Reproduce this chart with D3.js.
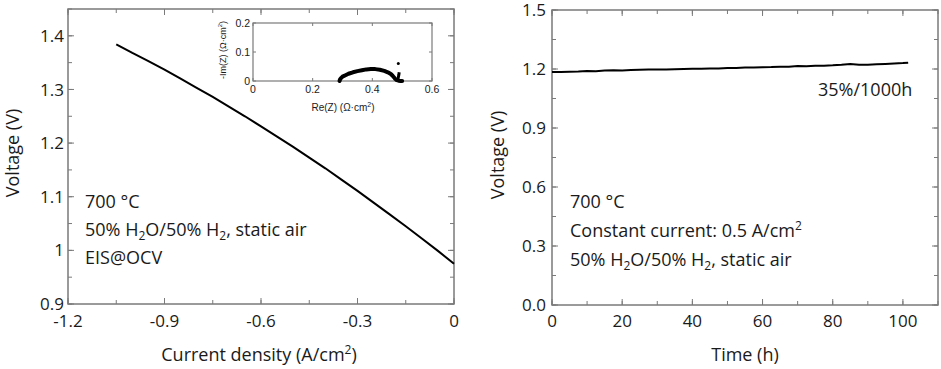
<!DOCTYPE html>
<html>
<head>
<meta charset="utf-8">
<script src="https://cdn.jsdelivr.net/npm/d3@7"></script>
<style>
body{margin:0;background:#fff;}
svg{display:block;}
text{fill:#1a1a1a;}
</style>
</head>
<body>
<svg id="c" width="941" height="369"></svg>
<script>
// ---------- DATA ----------
const ivCurrent = [-1.05,-1.0,-0.95,-0.9,-0.85,-0.8,-0.75,-0.7,-0.65,-0.6,-0.55,-0.5,-0.45,-0.4,-0.35,-0.3,-0.25,-0.2,-0.15,-0.1,-0.05,0];
const ivVoltage = [1.384,1.368,1.353,1.337,1.320,1.303,1.286,1.268,1.250,1.231,1.212,1.193,1.173,1.153,1.132,1.111,1.089,1.067,1.045,1.022,0.999,0.975];

const eisRe = [0.29,0.292,0.296,0.30,0.31,0.32,0.335,0.35,0.365,0.38,0.395,0.41,0.425,0.44,0.452,0.462,0.468,0.473,0.477,0.482,0.488,0.495,0.50];
const eisIm = [0.0,0.006,0.011,0.015,0.020,0.025,0.030,0.034,0.037,0.040,0.041,0.041,0.039,0.035,0.030,0.024,0.018,0.012,0.007,0.003,0.001,0.0,0.0];
const eisTailRe = [0.485,0.487,0.489,0.49];
const eisTailIm = [0.0,0.012,0.022,0.03];
const eisDotRe = [0.487];
const eisDotIm = [0.06];

const timeH = [0,2.5,5,7.5,10,12.5,15,17.5,20,22.5,25,27.5,30,32.5,35,37.5,40,42.5,45,47.5,50,52.5,55,57.5,60,62.5,65,67.5,70,72.5,75,77.5,80,82.5,85,87.5,90,92.5,95,97.5,100,101.5];
const timeV = [1.185,1.185,1.186,1.187,1.190,1.189,1.192,1.194,1.193,1.195,1.196,1.197,1.198,1.197,1.199,1.200,1.201,1.201,1.203,1.203,1.205,1.205,1.207,1.207,1.209,1.210,1.212,1.211,1.215,1.214,1.216,1.217,1.219,1.222,1.226,1.222,1.222,1.224,1.226,1.228,1.230,1.232];

const leftXTicks = [-1.2,-0.9,-0.6,-0.3,0];
const leftYTicks = [0.9,1.0,1.1,1.2,1.3,1.4];
const rightXTicks = [0,20,40,60,80,100];
const rightYTicks = [0,0.3,0.6,0.9,1.2,1.5];
const insetXTicks = [0,0.2,0.4,0.6];
const insetYTicks = [0,0.1,0.2];

// ---------- DRAW ----------
const svg = d3.select("#c");
const FONT = "'Open Sans', Lato, sans-serif";
const FS = 18;
const TFS = 17;
const FRAME = "#7a7a7a";

function panel(o){
  const g = svg.append("g");
  const x = d3.scaleLinear().domain(o.xDom).range([o.l,o.r]);
  const y = d3.scaleLinear().domain(o.yDom).range([o.b,o.t]);
  const drawTicks=(vals,len,axis)=>{
    vals.forEach(v=>{
      if(axis==="x"){
        g.append("line").attr("x1",x(v)).attr("x2",x(v)).attr("y1",o.b).attr("y2",o.b-len).attr("stroke",FRAME).attr("stroke-width",1);
        g.append("line").attr("x1",x(v)).attr("x2",x(v)).attr("y1",o.t).attr("y2",o.t+len).attr("stroke",FRAME).attr("stroke-width",1);
      } else {
        g.append("line").attr("y1",y(v)).attr("y2",y(v)).attr("x1",o.l).attr("x2",o.l+len).attr("stroke",FRAME).attr("stroke-width",1);
        g.append("line").attr("y1",y(v)).attr("y2",y(v)).attr("x1",o.r).attr("x2",o.r-len).attr("stroke",FRAME).attr("stroke-width",1);
      }
    });
  };
  drawTicks(o.xMinor,o.minorLen,"x");
  drawTicks(o.yMinor,o.minorLen,"y");
  drawTicks(o.xTicks,o.majorLen,"x");
  drawTicks(o.yTicks,o.majorLen,"y");
  g.append("rect").attr("x",o.l).attr("y",o.t).attr("width",o.r-o.l).attr("height",o.b-o.t)
    .attr("fill","none").attr("stroke",FRAME).attr("stroke-width",o.frameW||1.5);
  g.selectAll(".xl").data(o.xTicks).enter().append("text")
    .attr("x",d=>x(d)).attr("y",o.b+o.xLabOff).attr("text-anchor","middle")
    .style("font-family",o.font).style("font-size",o.fs+"px").text(o.xFmt);
  g.selectAll(".yl").data(o.yTicks).enter().append("text")
    .attr("x",o.l-o.yLabOff).attr("y",d=>y(d)).attr("dy","0.36em").attr("text-anchor","end")
    .style("font-family",o.font).style("font-size",o.fs+"px").text(o.yFmt);
  return {g,x,y};
}

// Left panel
const A = panel({l:68,r:454,t:9,b:304,xDom:[-1.2,0],yDom:[0.9,1.45],
  xTicks:leftXTicks,yTicks:leftYTicks,
  xMinor:d3.range(-1.2,0.001,0.15),yMinor:d3.range(0.9,1.451,0.05),
  majorLen:6,minorLen:4,xLabOff:23,yLabOff:4,fs:TFS,font:FONT,
  xFmt:d=>d===0?"0":d3.format(".1f")(d).replace("−","-"),
  yFmt:d=>Math.abs(d-1)<1e-9?"1":d3.format(".1f")(d)});
A.g.append("path").datum(ivCurrent.map((c,i)=>[c,ivVoltage[i]]))
  .attr("d",d3.line().x(d=>A.x(d[0])).y(d=>A.y(d[1])))
  .attr("fill","none").attr("stroke","#000").attr("stroke-width",2);

// Right panel
const B = panel({l:552,r:938,t:10,b:305,xDom:[0,110],yDom:[0,1.5],
  xTicks:rightXTicks,yTicks:rightYTicks,
  xMinor:d3.range(0,110.01,10),yMinor:d3.range(0,1.501,0.15),
  majorLen:6,minorLen:4,xLabOff:22,yLabOff:6,fs:TFS,font:FONT,
  xFmt:d=>String(d),yFmt:d=>d3.format(".1f")(d)});
B.g.append("path").datum(timeH.map((t,i)=>[t,timeV[i]]))
  .attr("d",d3.line().x(d=>B.x(d[0])).y(d=>B.y(d[1])))
  .attr("fill","none").attr("stroke","#000").attr("stroke-width",2);

// Inset
const IF = "'Liberation Sans', Arial, sans-serif";
svg.append("rect").attr("x",252).attr("y",22).attr("width",182).attr("height",60).attr("fill","#fff");
const C = panel({l:253,r:432,t:23,b:81,xDom:[0,0.6],yDom:[0,0.2],
  xTicks:insetXTicks,yTicks:insetYTicks,xMinor:[],yMinor:[],
  majorLen:3,minorLen:2,xLabOff:12,yLabOff:3,fs:10.5,font:IF,frameW:1.2,
  xFmt:d=>d===0?"0":d3.format(".1f")(d),yFmt:d=>d===0?"0":d3.format(".1f")(d)});
C.g.append("path").datum(eisRe.map((r,i)=>[r,eisIm[i]]))
  .attr("d",d3.line().x(d=>C.x(d[0])).y(d=>C.y(d[1])))
  .attr("fill","none").attr("stroke","#000").attr("stroke-width",4).attr("stroke-linecap","round").attr("stroke-linejoin","round");
C.g.append("path").datum(eisTailRe.map((r,i)=>[r,eisTailIm[i]]))
  .attr("d",d3.line().x(d=>C.x(d[0])).y(d=>C.y(d[1])))
  .attr("fill","none").attr("stroke","#000").attr("stroke-width",3);
C.g.selectAll(".dot").data(eisDotRe).enter().append("circle")
  .attr("cx",d=>C.x(d)).attr("cy",(d,i)=>C.y(eisDotIm[i])).attr("r",1.5).attr("fill","#000");
const rez = svg.append("text").attr("x",343).attr("y",111).attr("text-anchor","middle")
  .style("font-family",IF).style("font-size","10px");
rez.append("tspan").text("Re(Z) (Ω·cm");
rez.append("tspan").attr("dy","-4").style("font-size","7px").text("2");
rez.append("tspan").attr("dy","4").text(")");
const imz = svg.append("text").attr("transform","translate(226,50) rotate(-90)").attr("text-anchor","middle")
  .style("font-family",IF).style("font-size","9px");
imz.append("tspan").text("-Im(Z) (Ω·cm");
imz.append("tspan").attr("dy","-4").style("font-size","6px").text("2");
imz.append("tspan").attr("dy","4").text(")");

// text helper
function txt(x,y,parts,anchor,rot){
  const t = svg.append("text").attr("text-anchor",anchor||"start")
    .style("font-family",FONT).style("font-size",FS+"px");
  if(rot) t.attr("transform",`translate(${x},${y}) rotate(-90)`); else t.attr("x",x).attr("y",y);
  parts.forEach(p=>{
    const s=t.append("tspan").text(p[0]);
    if(p[1]==="sub") s.attr("dy","4").style("font-size","12px");
    else if(p[1]==="sup") s.attr("dy","-7").style("font-size","12px");
    else if(p[1]==="back") s.attr("dy","-4");
    else if(p[1]==="up") s.attr("dy","7");
  });
  return t;
}
txt(19,153,[["Voltage (V)"]],"middle",true);
txt(504,155,[["Voltage (V)"]],"middle",true);
txt(259,361,[["Current density (A/cm"],["2","sup"],[")","up"]],"middle");
txt(745,361,[["Time (h)"]],"middle");

txt(85,208,[["700 °C"]]);
txt(85,236,[["50% H"],["2","sub"],["O/50% H","back"],["2","sub"],[", static air","back"]]);
txt(85,264,[["EIS@OCV"]]);
txt(570,208,[["700 °C"]]);
txt(570,237,[["Constant current: 0.5 A/cm"],["2","sup"]]);
txt(570,266,[["50% H"],["2","sub"],["O/50% H","back"],["2","sub"],[", static air","back"]]);
txt(818,96,[["35%/1000h"]]);
</script>
</body>
</html>
